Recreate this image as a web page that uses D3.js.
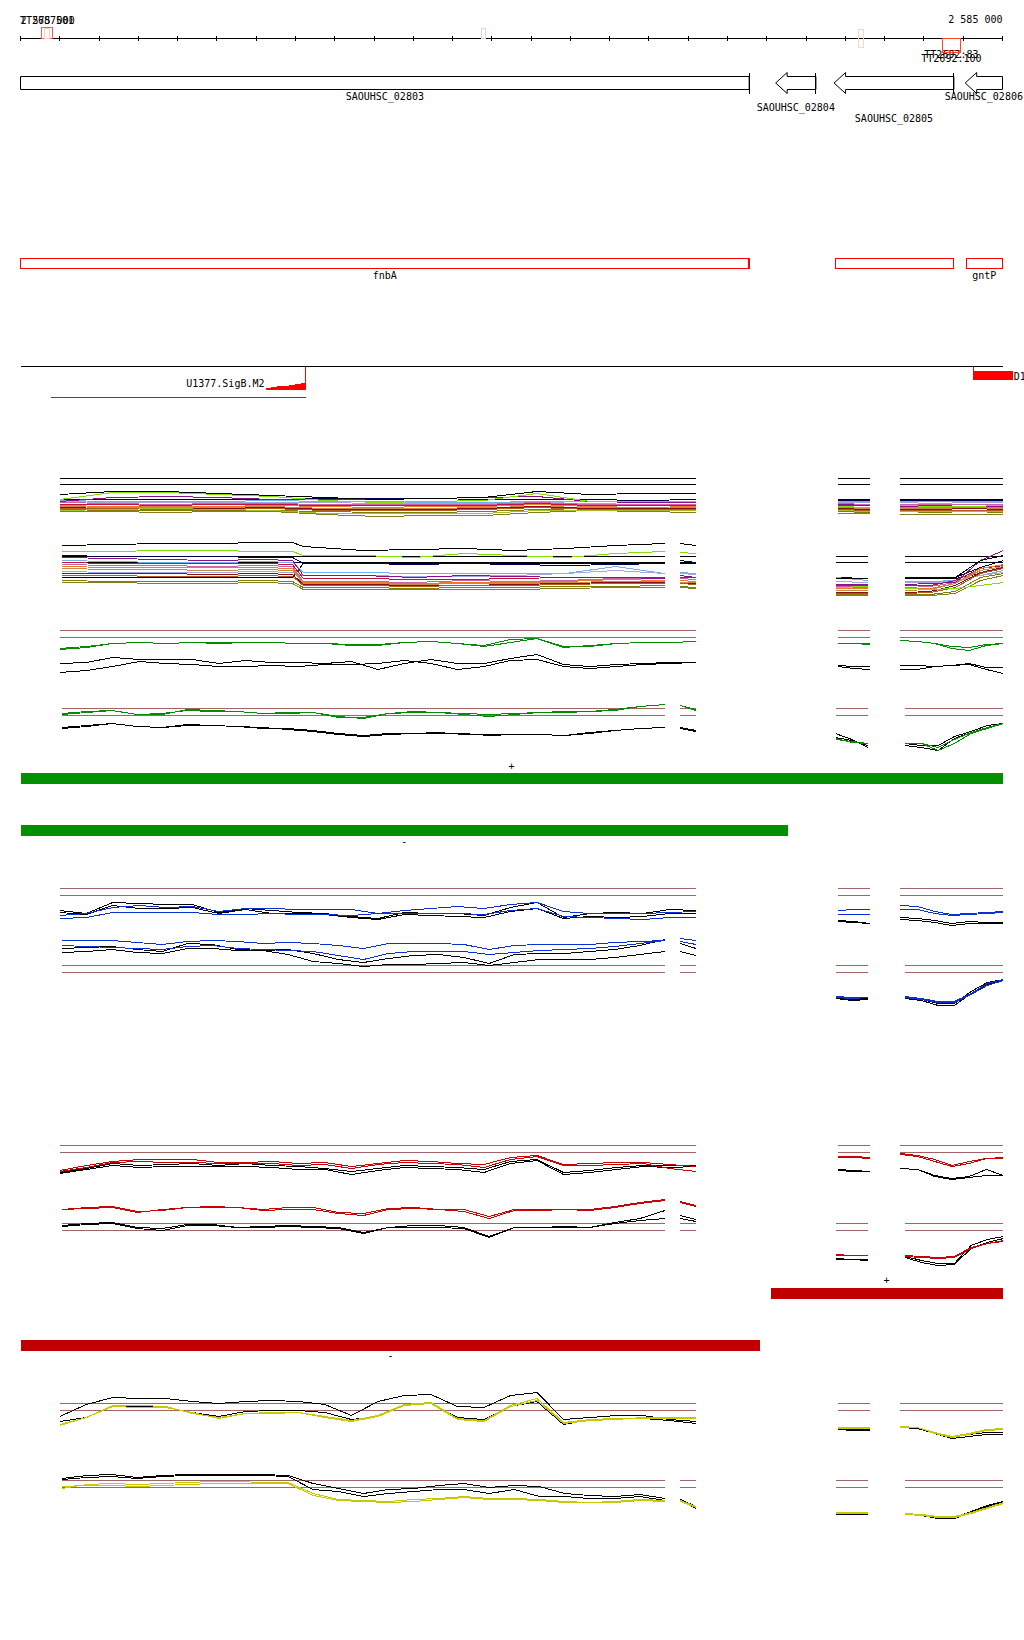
<!doctype html>
<html>
<head>
<meta charset="utf-8">
<script src="https://cdnjs.cloudflare.com/ajax/libs/d3/7.8.5/d3.min.js"></script>
<style>
  body { margin: 0; background: #fff; }
  svg { display: block; shape-rendering: crispEdges; }
  text { font-family: "DejaVu Sans Mono", monospace; font-size: 10px; fill: #000; }
</style>
</head>
<body>
<svg id="chart" width="1024" height="1640"></svg>
<script>
// ---------------- data ----------------
var viewStart = 2575000, viewEnd = 2585000;
var rulerTicks = [2575000,2575400,2575800,2576200,2576600,2577000,2577400,2577800,2578200,2578600,
  2579000,2579400,2579800,2580200,2580600,2581000,2581400,2581800,2582200,2582600,2583000,
  2583400,2583800,2584200,2584600,2585000];
var rulerLabels = ["2 575 000", "2 585 000"];

var ttLabels = ["TT2687501", "", "", "", "TT2692:83", "TT2692:100"];
var ttStarts = [2575215, 2575245, 2579690, 2583530, 2584390, 2584390];
var ttEnds   = [2575325, 2575295, 2579740, 2583580, 2584570, 2584570];

var geneNames  = ["SAOUHSC_02803", "SAOUHSC_02804", "SAOUHSC_02805", "SAOUHSC_02806"];
var geneStarts = [2572100, 2582690, 2583285, 2584620];
var geneEnds   = [2582420, 2583100, 2584505, 2585400];
var geneRows   = [0, 1, 2, 0];

var annoNames  = ["fnbA", "", "gntP"];
var annoStarts = [2572100, 2583300, 2584630];
var annoEnds   = [2582420, 2584500, 2585400];

var motifName = "U1377.SigB.M2", motifStart = 2575310, motifEnd = 2577907;
var motifBins = [2577495, 2577555, 2577615, 2577675, 2577735, 2577795, 2577855, 2577907];
var motifScores = [1, 2, 3, 3, 4, 5, 6];
var motif2Name = "D1", motif2Start = 2584700, motif2End = 2585105;

var strandBarStarts = [2575000, 2575000, 2582640, 2575000];
var strandBarEnds   = [2585000, 2582815, 2585000, 2582535];
var strandBarSigns  = ["+", "-", "+", "-"];

// probe positions (bp)
var posUpLeft  = [2575400,2575670,2575940,2576210,2576480,2576750,2577020,2577290,2577560,2577830,
  2578100,2578370,2578640,2578910,2579180,2579450,2579720,2579990,2580260,2580530,2580800,2581070,
  2581340,2581610,2581880];
var posUpSmall = [2583320, 2583490, 2583650];
var posUpBig   = [2583960, 2584135, 2584310, 2584485, 2584660, 2584835, 2585010];
var posLoLeft  = [2575420,2575676,2575932,2576188,2576444,2576700,2576956,2577212,2577468,2577724,
  2577980,2578236,2578492,2578748,2579004,2579260,2579516,2579772,2580028,2580284,2580540,2580796,
  2581052,2581308,2581564];
var posLoSeg2  = [2581720, 2581880];
var posLoSmall = [2583300, 2583465, 2583630];
var posLoBig   = [2584010, 2584175, 2584345, 2584510, 2584680, 2584845, 2585010];

var posAUpLeft  = [2575400,2575940,2576480,2577020,2577560,2578100,2578640,2579180,2579720,2580260,2580800,2581340,2581880];
var posAUpSmall = [2583320, 2583650];
var posAUpBig   = [2583960, 2584310, 2584660, 2585010];
var posALoLeft  = [2575420,2575930,2576440,2576960,2577470,2577770,2577880,2578490,2579010,2579520,2580030,2580550,2581060,2581560];
var posALoSeg2  = [2581720, 2581880];
var posALoSmall = [2583300, 2583630];
var posALoBig   = [2584010, 2584265, 2584520, 2584775, 2585010];

// group A, upper panel (left 13, small 2, big 4)
var aUp1  = [34,37,37,35,33,31,29,30,31,37,34,35,35, 29,29, 29,29,29,29];
var aUp2  = [29,36,36,34,32,28,26,27,28,35,27,27,27, 22,21, 23,22,22,23];
var aUp3  = [27,31,32,31,29,29,29,30,31,32,27,26,26, 24,23, 22,22,22,22];
var aUp4  = [29,29,29,29,29,30,30,30,29,29,29,28,29, 28,28, 28,28,28,28];
var aUp5  = [28,27,27,27,28,27,27,26,26,27,27,27,27, 27,27, 27,27,27,27];
var aUp6  = [27,26,26,26,26,26,25,25,25,26,25,26,26, 26,26, 26,25,26,26];
var aUp7  = [26,25,24,25,25,24,24,24,24,26,24,24,24, 25,24, 24,24,24,24];
var aUp8  = [24,24,23,24,24,23,23,23,23,25,23,23,23, 23,23, 23,23,22,23];
var aUp9  = [23,22,22,22,23,22,21,22,22,24,22,21,22, 22,21, 21,21,21,21];
var aUp10 = [22,21,21,21,22,20,20,20,21,22,21,20,21, 21,20, 20,20,20,20];
var aUp11 = [21,20,20,20,21,19,19,19,20,22,20,20,20, 20,19, 19,19,20,19];
var aUp12 = [20,20,19,19,20,18,18,18,19,21,19,19,19, 19,18, 18,18,18,18];
var aUp13 = [19,18,18,18,18,17,16,16,17,19,18,18,18, 17,16, 17,16,17,16];
var aUp14 = [17,17,16,17,17,14,12,13,13,16,18,17,16, 15,15, 14,14,14,14];
var aUp15 = [18,19,20,19,18,15,15,15,15,18,18,18,18, 18,17, 17,17,17,17];

// group A, lower panel (left 14, seg2 2, small 2, big 5)
var aLo1  = [61,62,63,63,64,64,60,56,57,58,56,58,61,63, 63,61, 28,28, 28,28,29,46,51];
var aLo2  = [55,55,56,56,55,55,51,51,49,53,51,49,53,55, 54,53, 19,20, 18,17,18,21,24];
var aLo3  = [51,50,50,50,49,49,43,43,42,43,42,41,42,43, 46,44, 29,28, 29,29,29,39,46];
var aLo4  = [49,48,47,46,47,46,31,31,29,31,30,29,29,28, 31,29, 22,22, 22,23,24,46,56];
var aLo5  = [46,45,44,44,45,44,34,34,33,33,33,33,40,33, 34,33, 29,26, 25,25,26,31,36];
var aLo6  = [44,43,43,43,43,42,28,28,27,27,28,29,29,29, 29,29, 21,21, 21,21,26,38,41];
var aLo7  = [42,41,41,40,41,40,25,25,24,26,25,26,28,28, 28,27, 20,19, 19,20,24,36,40];
var aLo8  = [40,39,39,39,39,38,24,24,23,24,24,25,27,26, 26,25, 18,18, 18,18,23,38,42];
var aLo9  = [38,37,37,36,37,36,23,23,22,23,23,24,25,25, 24,24, 16,16, 16,17,23,36,40];
var aLo10 = [35,34,34,34,35,34,31,31,30,30,31,33,36,33, 33,32, 25,24, 24,24,25,31,34];
var aLo11 = [33,33,33,32,33,32,22,22,21,21,22,23,24,24, 23,23, 14,14, 14,15,21,34,39];
var aLo12 = [29,29,29,29,29,29,43,43,43,43,43,43,43,43, 43,43, 28,28, 28,28,28,33,38];
var aLo13 = [31,31,30,30,31,30,21,21,20,21,21,22,23,23, 23,22, 13,13, 13,14,19,33,38];
var aLo14 = [26,25,25,25,26,25,19,19,18,19,19,20,20,21, 20,19, 12,12, 12,12,15,29,33];
var aLo15 = [24,24,23,23,24,23,17,17,17,17,17,18,19,19, 19,18, 11,11, 11,11,13,26,31];

// group B (green)
var bUpGreen1 = [32,34,37,38,37,38,38,38,38,37,37,36,36,38,39,37,35,41,42,33,35,37,38,38,39, 37,37,37, 40,39,37,32,30,35,37];
var bUpGreen2 = [31,33,37,38,37,38,37,38,38,37,37,35,35,38,39,37,34,38,42,34,34,37,38,38,39, 37,37,36, 40,39,37,34,33,36,37];
var bUpBlack1 = [17,18,23,21,21,21,17,20,18,18,17,19,11,17,21,17,17,22,26,16,14,16,17,18,18, 15,14,14, 15,15,14,15,17,13,13];
var bUpBlack2 = [8,10,14,19,17,16,14,14,15,14,16,16,17,20,17,11,14,20,21,14,12,14,16,17,18, 14,12,11, 11,11,14,15,16,11,7];
var bLoGreen1 = [45,47,48,44,44,49,48,47,45,45,46,41,41,45,47,46,45,44,45,46,46,47,49,52,54, 53,49, 20,16,15, 15,15,8,15,25,30,35];
var bLoGreen2 = [44,46,48,44,45,48,47,47,45,46,46,42,40,45,46,46,44,42,44,46,47,47,48,52,54, 53,48, 19,17,15, 15,15,11,19,26,31,35];
var bLoBlack1 = [31,33,35,32,31,34,33,32,30,30,28,25,23,25,25,25,25,23,24,24,23,25,28,30,31, 31,28, 25,19,11, 15,13,13,22,27,33,35];
var bLoBlack2 = [30,32,35,32,31,33,33,32,31,29,27,24,22,24,25,26,24,24,24,24,23,26,28,30,31, 30,27, 21,18,13, 13,11,8,20,26,31,35];

// group C (blue)
var cUpBlue1  = [23,25,31,33,31,32,27,30,30,29,29,29,25,28,30,32,30,34,36,27,25,25,25,26,27, 28,29,29, 33,32,27,24,25,26,27];
var cUpBlue2  = [20,21,26,26,26,26,24,24,25,24,24,23,25,25,25,25,24,28,30,22,21,20,19,21,21, 24,24,24, 29,29,25,23,24,25,26];
var cUpBlack1 = [28,25,36,35,34,34,26,30,28,26,25,22,20,26,25,25,23,31,36,21,25,26,25,29,28, 18,17,15, 21,20,18,15,17,16,16];
var cUpBlack2 = [26,24,33,30,30,31,25,29,25,25,24,21,19,24,23,22,21,27,30,20,22,21,22,25,25, 17,16,15, 19,18,16,13,15,15,15];
var cLoBlue1  = [75,75,75,73,71,74,75,74,72,73,72,70,67,72,72,72,71,66,70,71,71,71,73,74,75, 77,75, 19,18,18, 19,17,14,14,22,32,36];
var cLoBlue2  = [70,69,68,67,66,69,70,67,66,65,64,60,56,62,64,64,64,61,63,65,66,67,69,72,75, 74,71, 18,17,18, 18,16,13,13,21,30,35];
var cLoBlack1 = [67,68,69,66,64,72,71,66,65,66,62,56,53,57,60,61,58,52,61,62,62,64,66,70,76, 72,67, 17,15,16, 19,16,12,12,24,33,36];
var cLoBlack2 = [63,64,66,63,62,67,67,65,65,61,54,52,49,51,51,52,53,50,53,56,56,56,58,61,64, 64,60, 18,16,17, 17,15,10,10,22,31,35];

// group D (red)
var dUpRed1   = [25,30,34,36,36,36,33,33,34,32,33,29,32,35,34,32,31,38,40,31,32,33,33,31,29, 39,39,38, 42,40,36,30,34,37,38];
var dUpRed2   = [24,28,33,34,33,33,32,32,32,30,31,27,31,33,32,31,28,36,39,30,30,31,32,27,24, 38,38,37, 41,39,34,29,32,37,37];
var dUpBlack1 = [23,27,32,30,31,32,30,32,30,29,27,24,27,30,29,28,26,34,36,23,25,28,30,30,30, 26,25,24, 27,26,20,17,19,26,20];
var dUpBlack2 = [22,26,30,28,29,29,29,29,28,26,26,21,25,28,27,26,23,32,35,21,23,26,29,28,29, 25,24,24, 27,26,19,16,18,20,20];
var dLoRed1   = [64,66,67,62,63,66,67,66,64,66,66,61,60,65,66,64,64,57,64,64,64,64,67,71,74, 72,68, 19,18,18, 18,17,16,17,26,30,33];
var dLoRed2   = [64,65,66,61,64,66,66,66,63,64,64,60,58,64,65,64,62,55,63,63,64,63,66,70,73, 71,67, 18,18,18, 17,16,15,16,25,30,32];
var dLoBlack1 = [48,50,51,46,45,49,49,46,47,48,47,46,41,46,48,48,46,37,46,46,47,46,51,55,63, 58,54, 15,14,14, 17,13,10,10,28,34,37];
var dLoBlack2 = [47,49,50,45,43,48,48,46,46,47,46,45,40,46,46,46,45,36,46,46,46,46,50,53,55, 55,52, 14,14,13, 16,11,8,9,25,31,35];

// group E (yellow)
var eUpYellow1 = [28,36,48,48,47,40,36,40,41,41,37,33,38,49,51,35,33,48,55,31,34,35,35,35,35, 26,26,26, 27,26,21,17,20,24,25];
var eUpYellow2 = [29,36,47,46,46,41,35,40,40,41,36,32,37,48,50,34,32,47,53,30,33,34,36,36,36, 25,25,25, 26,26,20,16,19,23,24];
var eUpBlack1  = [37,49,56,55,55,52,50,52,53,52,49,38,52,58,59,47,46,58,61,34,36,38,38,34,32, 24,24,24, 26,26,21,16,19,21,21];
var eUpBlack2  = [32,36,48,47,46,41,37,42,43,43,41,34,37,48,50,36,34,47,52,29,34,35,35,33,30, 24,23,23, 26,25,20,15,17,19,19];
var eLoYellow1 = [42,46,47,46,47,48,49,49,48,48,37,31,30,29,31,32,34,32,32,31,29,28,29,31,30, 30,24, 18,18,18, 17,16,14,14,18,23,28];
var eLoYellow2 = [44,45,45,44,45,46,47,47,47,47,35,30,29,28,29,31,33,31,31,30,28,28,28,30,29, 29,23, 17,17,17, 16,15,13,13,17,22,27];
var eLoBlack1  = [52,55,56,53,55,56,56,56,56,55,47,42,37,41,42,45,47,43,45,44,37,35,34,36,32, 31,24, 17,17,17, 17,16,13,13,19,25,29];
var eLoBlack2  = [51,53,54,52,54,55,55,55,55,54,41,39,34,37,39,41,41,37,41,34,34,32,32,34,30, 30,22, 16,16,16, 16,15,12,12,18,24,28];

var refsA = [50, 44], refsBE = [50, 43];

// ---------------- drawing ----------------
var svg = d3.select("#chart");
var x = d3.scaleLinear().domain([viewStart, viewEnd]).range([20.5, 1002.5]);
function cx(v) { return x(Math.max(viewStart, Math.min(viewEnd, v))); }

// ruler
svg.append("line").attr("x1", x(viewStart)).attr("x2", x(viewEnd))
  .attr("y1", 38.5).attr("y2", 38.5).attr("stroke", "#000");
var rulerAxis = d3.axisBottom(x).tickValues(rulerTicks).tickSize(5).tickFormat("").offset(0);
svg.append("g").attr("transform", "translate(0,36)").call(rulerAxis)
  .call(function(g) { g.select(".domain").remove(); });
svg.append("text").attr("x", x(viewStart)).attr("y", 24).text(rulerLabels[0]);
svg.append("text").attr("x", x(viewEnd)).attr("y", 23).attr("text-anchor", "end").text(rulerLabels[1]);

// transcripts on the ruler
var ttTop = [27.5, 28.5, 28.5, 29.5, 38.5, 38.5], ttBot = [38.5, 38.5, 38.5, 47.5, 50.5, 52.5];
var ttColor = ["#ff5a3c", "#f4cfc6", "#f4cfc6", "#f6d6ce", "#ff4a2a", "#ff4a2a"];
var ttLabelY = [24, 0, 0, 0, 58, 62];
ttStarts.forEach(function(s, i) {
  svg.append("rect").attr("x", x(s)).attr("y", ttTop[i])
    .attr("width", x(ttEnds[i]) - x(s)).attr("height", ttBot[i] - ttTop[i])
    .attr("fill", "none").attr("stroke", ttColor[i]);
  if (ttLabels[i]) {
    svg.append("text").attr("x", (x(s) + x(ttEnds[i])) / 2).attr("y", ttLabelY[i])
      .attr("text-anchor", "middle").text(ttLabels[i]);
  }
});

// genes (minus strand arrows)
var bTop = 76.5, bBot = 89.5, hTop = 72.5, hBot = 93.5, mid = 83, hLen = 11.5;
var geneRowY = [100, 111, 122];
geneNames.forEach(function(name, i) {
  var clipL = geneStarts[i] < viewStart, clipR = geneEnds[i] > viewEnd;
  var x0 = cx(geneStarts[i]), x1 = cx(geneEnds[i]);
  var pts;
  if (clipL) pts = [[x0, bTop], [x1, bTop], [x1, bBot], [x0, bBot]];
  else pts = [[x0, mid], [x0 + hLen, hTop], [x0 + hLen, bTop], [x1, bTop], [x1, bBot],
              [x0 + hLen, bBot], [x0 + hLen, hBot]];
  svg.append("path").attr("d", "M" + pts.join("L") + "Z")
    .attr("fill", "#fff").attr("stroke", "#000").style("shape-rendering", "auto");
  if (!clipR) {
    svg.append("line").attr("x1", x1).attr("x2", x1).attr("y1", hTop).attr("y2", hBot).attr("stroke", "#000");
  }
  svg.append("text").attr("x", (x0 + x1) / 2).attr("y", geneRowY[geneRows[i]])
    .attr("text-anchor", "middle").text(name);
});

// annotation boxes
annoNames.forEach(function(name, i) {
  var x0 = cx(annoStarts[i]), x1 = cx(annoEnds[i]);
  svg.append("rect").attr("x", x0).attr("y", 258.5).attr("width", x1 - x0).attr("height", 10)
    .attr("fill", "none").attr("stroke", "#ff0000").attr("stroke-width", 1.3);
  if (name) svg.append("text").attr("x", (x0 + x1) / 2).attr("y", 279).attr("text-anchor", "middle").text(name);
});

// motif track
svg.append("line").attr("x1", x(viewStart)).attr("x2", x(viewEnd)).attr("y1", 366.5).attr("y2", 366.5).attr("stroke", "#000");
svg.append("line").attr("x1", x(motifStart)).attr("x2", x(motifEnd)).attr("y1", 397.5).attr("y2", 397.5).attr("stroke", "#ff0000");
svg.append("line").attr("x1", x(motifEnd)).attr("x2", x(motifEnd)).attr("y1", 366.5).attr("y2", 389.5).attr("stroke", "#ff0000");
var ms = d3.scaleLinear().domain([0, 7]).range([389.5, 382]);
motifScores.forEach(function(s, i) {
  svg.append("rect").attr("x", x(motifBins[i])).attr("width", x(motifBins[i + 1]) - x(motifBins[i]))
    .attr("y", ms(s)).attr("height", ms(0) - ms(s)).attr("fill", "#ff0000");
});
svg.append("text").attr("x", x(motifBins[0]) - 1).attr("y", 387).attr("text-anchor", "end").text(motifName);
svg.append("line").attr("x1", x(motif2Start)).attr("x2", x(motif2Start)).attr("y1", 366.5).attr("y2", 371).attr("stroke", "#ff0000");
svg.append("rect").attr("x", x(motif2Start)).attr("y", 371).attr("width", x(motif2End) - x(motif2Start))
  .attr("height", 9).attr("fill", "#ff0000");
svg.append("text").attr("x", x(motif2End) + 1).attr("y", 380).text(motif2Name);

// strand bars
var barY = [773, 824.5, 1288, 1339.5], barColor = ["#009000", "#009000", "#c00000", "#c00000"];
var signY = [770, 845, 1284, 1359];
strandBarStarts.forEach(function(s, i) {
  svg.append("rect").attr("x", x(s)).attr("y", barY[i]).attr("width", x(strandBarEnds[i]) - x(s))
    .attr("height", 11).attr("fill", barColor[i]);
  svg.append("text").attr("x", (x(s) + x(strandBarEnds[i])) / 2).attr("y", signY[i])
    .attr("text-anchor", "middle").text(strandBarSigns[i]);
});

// profile panels
var upSegs = [posUpLeft, posUpSmall, posUpBig];
var loSegs = [posLoLeft, posLoSeg2, posLoSmall, posLoBig];
var aUpSegs = [posAUpLeft, posAUpSmall, posAUpBig];
var aLoSegs = [posALoLeft, posALoSeg2, posALoSmall, posALoBig];

function drawPanel(base, refs, refColor, segs, series) {
  var y = d3.scaleLinear().domain([0, 100]).range([base, base - 100]);
  var line = d3.line().x(function(d) { return x(d[0]); }).y(function(d) { return y(d[1]); });
  var g = svg.append("g");
  segs.forEach(function(pos) {
    refs.forEach(function(r) {
      g.append("line").attr("x1", x(pos[0])).attr("x2", x(pos[pos.length - 1]))
        .attr("y1", y(r)).attr("y2", y(r)).attr("stroke", refColor);
    });
  });
  series.forEach(function(s) {
    var off = 0;
    segs.forEach(function(pos) {
      var vals = s.values.slice(off, off + pos.length);
      off += pos.length;
      g.append("path").attr("d", line(pos.map(function(p, i) { return [p, vals[i]]; })))
        .attr("fill", "none").attr("stroke", s.color).attr("stroke-width", 1);
    });
  });
}

var cBlack = "#000000", cLime = "#7ee000", cPurple = "#8b108b", cNavy = "#000050", cLBlue = "#6cb4e8",
    cLav = "#a6a6de", cPink = "#d060a8", cCrim = "#c41040", cOrange = "#ea7a30", cTan = "#c88a40",
    cMaroon = "#8a1010", cSienna = "#b45a20", cOlive = "#808000", cOlive2 = "#8a7a20", cYG = "#a2c020";

drawPanel(528.5, refsA, "#000", aUpSegs, [
  {values: aUp4, color: cNavy}, {values: aUp5, color: cLBlue}, {values: aUp6, color: cLav},
  {values: aUp7, color: cPink}, {values: aUp8, color: cCrim}, {values: aUp9, color: cOrange},
  {values: aUp10, color: cTan}, {values: aUp11, color: cMaroon}, {values: aUp12, color: cSienna},
  {values: aUp13, color: cOlive}, {values: aUp14, color: cOlive2}, {values: aUp15, color: cYG},
  {values: aUp3, color: cPurple}, {values: aUp2, color: cLime}, {values: aUp1, color: cBlack}
]);
drawPanel(606.5, refsA, "#000", aLoSegs, [
  {values: aLo12, color: cBlack}, {values: aLo3, color: cNavy}, {values: aLo5, color: cLBlue},
  {values: aLo10, color: cLav}, {values: aLo6, color: cCrim}, {values: aLo7, color: cPink},
  {values: aLo8, color: cOrange}, {values: aLo9, color: cTan}, {values: aLo11, color: cMaroon},
  {values: aLo13, color: cSienna}, {values: aLo14, color: cOlive}, {values: aLo15, color: cOlive2},
  {values: aLo4, color: cPurple}, {values: aLo2, color: cLime}, {values: aLo1, color: cBlack}
]);

var refBrown = "#a06464";
var groups = [
  {up: 680.5, lo: 758.5, color: "#008c00", upS: [bUpBlack1, bUpBlack2, bUpGreen1, bUpGreen2], loS: [bLoBlack1, bLoBlack2, bLoGreen1, bLoGreen2]},
  {up: 938.5, lo: 1015.5, color: "#0a32d2", upS: [cUpBlack1, cUpBlack2, cUpBlue1, cUpBlue2], loS: [cLoBlack1, cLoBlack2, cLoBlue1, cLoBlue2]},
  {up: 1195.5, lo: 1273.5, color: "#cc0000", upS: [dUpBlack1, dUpBlack2, dUpRed1, dUpRed2], loS: [dLoBlack1, dLoBlack2, dLoRed1, dLoRed2]},
  {up: 1453.5, lo: 1530.5, color: "#c8c800", upS: [eUpBlack1, eUpBlack2, eUpYellow1, eUpYellow2], loS: [eLoBlack1, eLoBlack2, eLoYellow1, eLoYellow2]}
];
groups.forEach(function(gr) {
  var cols = ["#000", "#000", gr.color, gr.color];
  drawPanel(gr.up, refsBE, refBrown, upSegs, gr.upS.map(function(v, i) { return {values: v, color: cols[i]}; }));
  drawPanel(gr.lo, refsBE, refBrown, loSegs, gr.loS.map(function(v, i) { return {values: v, color: cols[i]}; }));
});
</script>
</body>
</html>
